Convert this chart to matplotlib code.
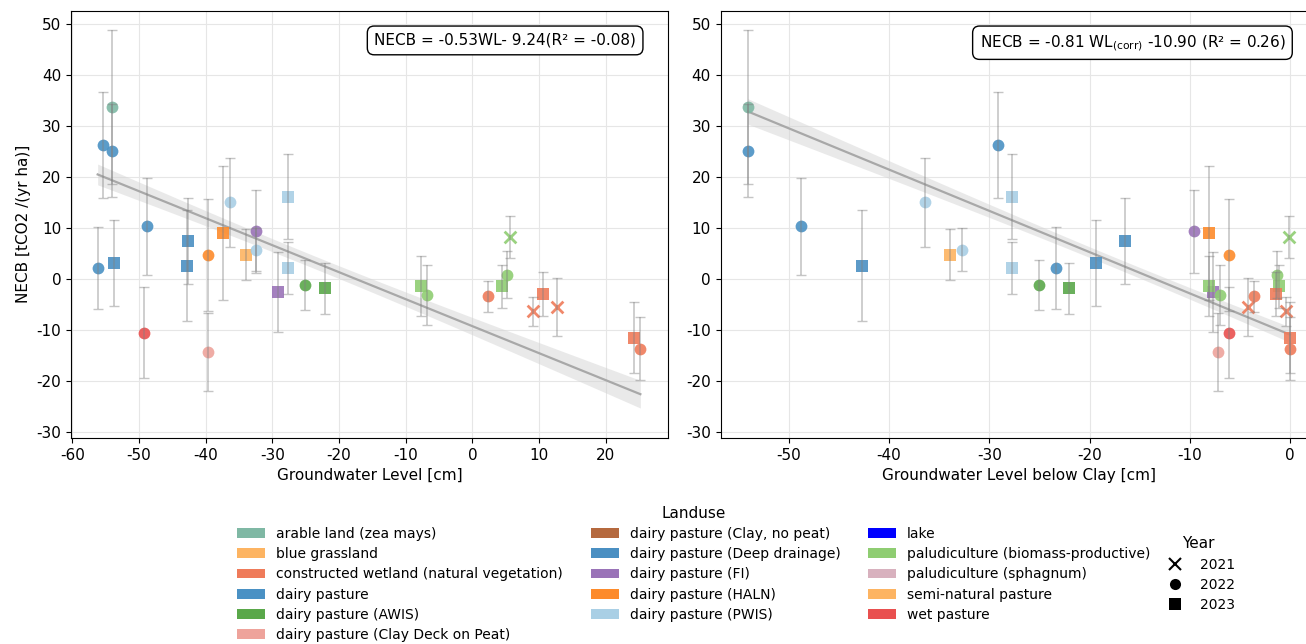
import matplotlib
matplotlib.use("Agg")
import matplotlib.pyplot as plt
import numpy as np
from matplotlib.patches import Patch
from matplotlib.lines import Line2D

plt.rcParams['axes.unicode_minus'] = False
plt.rcParams['font.size'] = 11

LANDUSE_NAMES = ["arable land (zea mays)", "blue grassland", "constructed wetland (natural vegetation)",
                 "dairy pasture", "dairy pasture (AWIS)", "dairy pasture (Clay Deck on Peat)",
                 "dairy pasture (Clay, no peat)", "dairy pasture (Deep drainage)", "dairy pasture (FI)",
                 "dairy pasture (HALN)", "dairy pasture (PWIS)", "lake",
                 "paludiculture (biomass-productive)", "paludiculture (sphagnum)",
                 "semi-natural pasture", "wet pasture"]
LANDUSE_COLORS = ["#7fb8a4", "#fdb462", "#ef7b5a", "#4a91c4", "#5aa84a", "#eea39b",
                  "#b5693e", "#4a8fc2", "#9a73b8", "#fd8b2b", "#a9cfe5", "#0000ff",
                  "#8fcd72", "#d8b1be", "#fdb462", "#e9504f"]

# one entry per site-year
landuse = ["arable land (zea mays)", "dairy pasture", "dairy pasture", "dairy pasture",
           "dairy pasture (Deep drainage)", "dairy pasture (Deep drainage)", "dairy pasture",
           "dairy pasture (Deep drainage)", "wet pasture", "dairy pasture (HALN)",
           "dairy pasture (Clay Deck on Peat)", "dairy pasture (HALN)", "dairy pasture (PWIS)",
           "blue grassland", "dairy pasture (PWIS)", "dairy pasture (FI)", "dairy pasture (FI)",
           "dairy pasture (PWIS)", "dairy pasture (PWIS)", "dairy pasture (AWIS)", "dairy pasture (AWIS)",
           "paludiculture (biomass-productive)", "paludiculture (biomass-productive)",
           "constructed wetland (natural vegetation)", "paludiculture (biomass-productive)",
           "paludiculture (biomass-productive)", "paludiculture (biomass-productive)",
           "constructed wetland (natural vegetation)", "constructed wetland (natural vegetation)",
           "constructed wetland (natural vegetation)", "constructed wetland (natural vegetation)",
           "constructed wetland (natural vegetation)"]
year = [2022, 2022, 2022, 2022, 2023, 2023, 2022, 2023, 2022, 2022, 2022, 2023, 2022, 2023, 2022, 2022,
        2023, 2023, 2023, 2022, 2023, 2023, 2022, 2022, 2023, 2022, 2021, 2021, 2023, 2021, 2023, 2022]
wl = [-54.1, -55.35, -54.1, -48.8, -42.7, -42.8, -56.2, -53.7, -49.2, -39.6, -39.6, -37.4, -36.4,
      -34.0, -32.5, -32.5, -29.1, -27.7, -27.65, -25.1, -22.1, -7.7, -6.8, 2.4, 4.5, 5.2, 5.7,
      9.1, 10.6, 12.7, 24.3, 25.2]
wl_corr = [-54.1, -29.1, -54.1, -48.8, -16.5, -42.7, -23.3, -19.4, -6.1, -6.05, -7.2, -8.05, -36.4,
           -33.9, -32.7, -9.55, -7.65, -27.7, -27.7, -25.0, -22.05, -8.05, -7.0, -3.55, -1.05, -1.3,
           -0.05, -0.35, -1.4, -4.15, 0.0, 0.0]
necb = [33.8, 26.4, 25.2, 10.4, 7.45, 2.6, 2.2, 3.2, -10.5, 4.8, -14.3, 9.1, 15.1, 4.8, 5.8, 9.35,
        -2.5, 2.2, 16.2, -1.2, -1.8, -1.4, -3.1, -3.4, -1.4, 0.9, 8.2, -6.3, -3.0, -5.4, -11.5, -13.65]
necb_err = [15.1, 10.4, 9.1, 9.5, 8.5, 10.9, 8.0, 8.4, 9.0, 11.0, 7.6, 13.2, 8.7, 5.0, 4.3, 8.2,
            7.9, 5.1, 8.3, 4.9, 5.0, 5.9, 5.9, 3.1, 4.2, 4.7, 4.15, 2.85, 4.3, 5.7, 7.0, 6.2]

# fitted models as reported in the figure
fit_wl = (-0.53, -9.24)
fit_wl_corr = (-0.81, -10.90)

YEARS = [2021, 2022, 2023]
MARKERS = {2021: 'x', 2022: 'o', 2023: 's'}
COLOR_OF = dict(zip(LANDUSE_NAMES, LANDUSE_COLORS))


def panel(ax, xvals, coef, xlabel, eq, xlim):
    x = np.array(xvals)
    y = np.array(necb)
    k, d = coef
    xs = np.linspace(x.min(), x.max(), 100)
    fit = k * xs + d
    s = np.sqrt(np.sum((y - (k * x + d)) ** 2) / (len(x) - 2))
    se = s * np.sqrt(1 / len(x) + (xs - x.mean()) ** 2 / np.sum((x - x.mean()) ** 2))
    ax.fill_between(xs, fit - 0.6 * se, fit + 0.6 * se, color='#d4d4d4', alpha=0.5, lw=0, zorder=1)
    ax.plot(xs, fit, color='#a8a8a8', lw=1.6, zorder=2)
    for i in range(len(x)):
        m = MARKERS[year[i]]
        ax.scatter(x[i], y[i], marker=m, s=72, color=COLOR_OF[landuse[i]], alpha=0.9,
                   linewidths=2 if m == 'x' else 0, zorder=3)
    ax.errorbar(x, y, yerr=necb_err, fmt='none', ecolor='gray', alpha=0.45,
                capsize=3.5, elinewidth=1.2, capthick=1.0, zorder=4)
    ax.set_xlabel(xlabel)
    ax.set_xlim(xlim)
    ax.set_ylim(-31.2, 52.7)
    ax.set_yticks(np.arange(-30, 51, 10))
    ax.grid(True, color='#e6e6e6', lw=0.8)
    ax.set_axisbelow(True)
    ax.text(0.947, 0.948, eq, transform=ax.transAxes, ha='right', va='top', fontsize=11,
            bbox=dict(boxstyle='round,pad=0.45', fc='white', ec='black', lw=1), zorder=5)


fig = plt.figure(figsize=(13.06, 6.44), dpi=100)
ax1 = fig.add_axes([71 / 1306, 1 - 438 / 644, 596.7 / 1306, 427.3 / 644])
ax2 = fig.add_axes([720.7 / 1306, 1 - 438 / 644, 596.3 / 1306, 427.3 / 644])

panel(ax1, wl, fit_wl, "Groundwater Level [cm]", "NECB = -0.53WL- 9.24(R² = -0.08)", (-60.2, 29.3))
panel(ax2, wl_corr, fit_wl_corr, "Groundwater Level below Clay [cm]",
      r"NECB = -0.81 WL$_{\mathrm{(corr)}}$ -10.90 (R² = 0.26)", (-56.8, 2.7))
ax1.set_ylabel("NECB [tCO2 /(yr ha)]")

land_handles = [Patch(facecolor=c, edgecolor='none', label=n) for n, c in zip(LANDUSE_NAMES, LANDUSE_COLORS)]
fig.legend(handles=land_handles, title="Landuse", loc='upper center', ncol=3, frameon=False,
           fontsize=10, title_fontsize=11, labelspacing=0.45,
           bbox_to_anchor=(694 / 1306, 1 - 493 / 644))

year_handles = [Line2D([], [], marker=MARKERS[yr], color='black', ls='none', markersize=8,
                       markeredgewidth=1.5 if yr == 2021 else 0, label=str(yr)) for yr in YEARS]
fig.legend(handles=year_handles, title="Year", loc='upper left', frameon=False,
           fontsize=10, title_fontsize=11, labelspacing=0.45,
           bbox_to_anchor=(1149 / 1306, 1 - 524 / 644))

fig.savefig("out.png", dpi=100)
